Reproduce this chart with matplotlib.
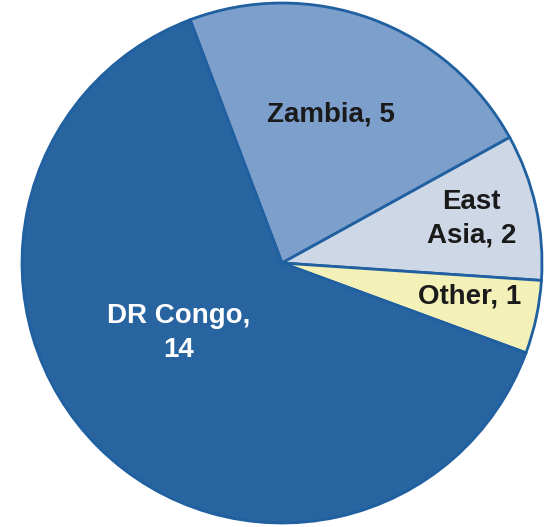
import numpy as np
import matplotlib.pyplot as plt

# slice order is clockwise from the top-left edge
labels = ['Zambia', 'East\nAsia', 'Other', 'DR Congo,\n']
values = [5, 2, 1, 14]
colors = ['#7c9fcc', '#cdd7e5', '#f3f0b8', '#2864a0']
text_colors = ['#1a1a1a', '#1a1a1a', '#1a1a1a', 'white']
# label placement (radial distance, angle offset in degrees)
label_r = [0.60, 0.748, 0.733, 0.48]
label_dtheta = [2, 0.6, 1.8, -11]

plt.rcParams['font.family'] = ['Liberation Sans', 'DejaVu Sans']

fig = plt.figure(figsize=(5.57, 5.27), dpi=100)
ax = fig.add_axes([0, 0, 1, 1])

wedges, _ = ax.pie(values, colors=colors, startangle=110.7, counterclock=False,
                   radius=1.0, wedgeprops=dict(edgecolor='#2060a0', linewidth=2))

for w, lab, v, tc, r, dt in zip(wedges, labels, values, text_colors, label_r, label_dtheta):
    mid = np.deg2rad((w.theta1 + w.theta2) / 2 + dt)
    if lab.endswith('\n'):
        txt = lab + str(v)
    else:
        txt = f'{lab}, {v}'
    ax.text(r * np.cos(mid), r * np.sin(mid), txt, ha='center', va='center',
            fontsize=20, fontweight='bold', color=tc, linespacing=1.4)

ax.set_aspect('auto')
ax.set_xlim(-282 / 260, 275 / 260)
ax.set_ylim(-264 / 260, 263 / 260)
ax.axis('off')

fig.savefig('out.png', dpi=100)
